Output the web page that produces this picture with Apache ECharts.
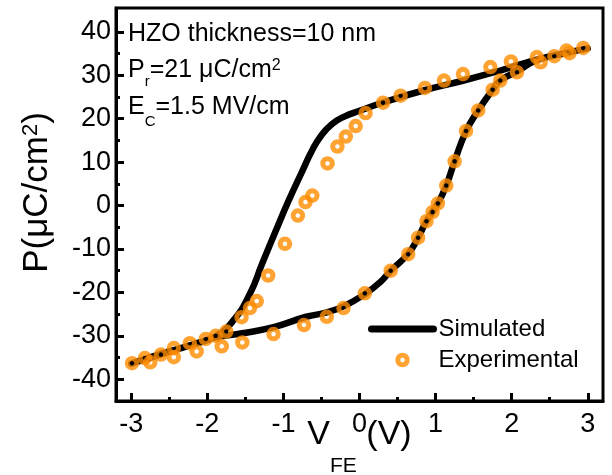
<!DOCTYPE html>
<html>
<head>
<meta charset="utf-8">
<script src="https://cdn.jsdelivr.net/npm/echarts@6/dist/echarts.min.js"></script>
<style>
  html, body { margin: 0; padding: 0; background: #fff; }
  #chart { width: 612px; height: 475px; }
</style>
</head>
<body>
<div id="chart"></div>
<script>
// simulated loop: upper branch (sweep down) then lower branch (sweep up)
const simV = [3.0, 2.73, 2.33, 1.85, 1.37, 0.84, 0.32, 0.01, -0.2, -0.36, -0.5, -0.62, -0.75, -0.93, -1.1, -1.28, -1.44, -1.66, -1.9, -2.2, -2.6, -3.0,
  -2.6, -2.2, -1.9, -1.54, -1.13, -0.7, -0.43, -0.21, 0.07, 0.28, 0.41, 0.64, 0.77, 0.88, 1.03, 1.14, 1.25, 1.4, 1.56, 1.75, 1.85, 2.07, 2.33, 2.73, 3.0];
const simP = [36.2, 35.2, 33.6, 31.1, 28.8, 26.5, 23.8, 21.9, 20.5, 18.8, 16.2, 12.8, 8.0, 1.2, -5.8, -13.4, -20.3, -26.5, -30.2, -32.0, -34.2, -36.4,
  -34.1, -32.1, -30.4, -29.4, -28.0, -25.6, -24.6, -23.2, -20.4, -17.5, -15.0, -11.1, -7.4, -3.6, 0.5, 4.6, 10.2, 17.1, 21.9, 26.7, 28.8, 30.9, 33.5, 35.2, 36.2];

const expV = [2.94, 2.76, 2.72, 2.56, 2.38, 2.33, 1.99, 1.72, 1.36, 1.11, 0.86, 0.54, 0.31, 0.08, -0.05, -0.18, -0.29, -0.42, -0.62, -0.71, -0.81, -0.98,
  -1.2, -1.35, -1.44, -1.55, -1.75, -1.89, -2.02, -2.23, -2.44, -2.61, -2.82, -2.99,
  -2.75, -2.44, -2.14, -1.81, -1.54, -1.13, -0.73, -0.43, -0.21, 0.07, 0.41, 0.64, 0.77, 0.88, 0.96, 1.03, 1.14, 1.25, 1.4, 1.56, 1.75, 1.85, 2.07];
const expP = [36.3, 35.1, 35.7, 34.4, 33.0, 34.2, 33.2, 31.9, 30.3, 28.8, 27.1, 25.3, 23.7, 21.3, 18.3, 15.9, 13.6, 9.7, 2.3, 0.8, -2.3, -8.8,
  -16.1, -22.0, -23.6, -25.7, -29.0, -30.0, -30.7, -31.7, -32.8, -34.3, -35.1, -36.3,
  -36.1, -34.9, -33.6, -32.4, -31.5, -29.6, -27.5, -25.6, -23.6, -20.2, -15.0, -11.2, -7.4, -3.6, -1.5, 0.5, 4.6, 10.2, 17.2, 21.9, 26.7, 28.8, 30.7];

const xTicks = [-3, -2, -1, 0, 1, 2, 3];
const xMinorTicks = [-2.5, -1.5, -0.5, 0.5, 1.5, 2.5];
const yTicks = [-40, -30, -20, -10, 0, 10, 20, 30, 40];
const yMinorTicks = [-35, -25, -15, -5, 5, 15, 25, 35];

const font = "'Liberation Sans', Arial, sans-serif";
const orange = '#FF8C00';

const chart = echarts.init(document.getElementById('chart'));

function minorAxis(base, values) {
  return Object.assign({}, base, {
    axisLine: { show: false, onZero: false },
    axisLabel: { show: false, customValues: values },
    axisTick: { inside: true, length: 4, customValues: values, lineStyle: { color: '#000', width: 3 } },
    splitLine: { show: false },
    name: ''
  });
}

const xBase = { type: 'value', min: -3.2, max: 3.2, position: 'bottom' };
const yBase = { type: 'value', min: -45, max: 45.5, position: 'left' };

chart.setOption({
  animation: false,
  textStyle: { fontFamily: font, color: '#000' },
  grid: {
    left: 116, right: 9, top: 8, bottom: 74,
    outerBoundsMode: 'none',
    show: true, borderColor: '#000', borderWidth: 3
  },
  legend: {
    orient: 'vertical',
    left: 368,
    top: 317,
    padding: 0,
    itemWidth: 62,
    itemHeight: 9.5,
    itemGap: 7,
    textStyle: { fontSize: 24, color: '#000', fontFamily: font },
    data: [
      { name: 'Simulated', itemStyle: { opacity: 0 }, lineStyle: { width: 7, color: '#000' } },
      { name: 'Experimental', itemStyle: { borderWidth: 5 } }
    ]
  },
  xAxis: [
    Object.assign({}, xBase, {
      axisLine: { show: true, onZero: false, lineStyle: { color: '#000', width: 3 } },
      axisTick: { inside: true, length: 8, customValues: xTicks, lineStyle: { color: '#000', width: 3 } },
      axisLabel: { customValues: xTicks, fontSize: 27, color: '#000', margin: 10, fontFamily: font },
      splitLine: { show: false },
      name: '{m|V}{s|FE}{m| (V)}',
      nameLocation: 'middle',
      nameGap: 17,
      nameMoveOverlap: false,
      nameTextStyle: {
        rich: {
          m: { fontSize: 34, lineHeight: 34, verticalAlign: 'top', fontFamily: font, color: '#000' },
          s: { fontSize: 21, lineHeight: 21, verticalAlign: 'top', padding: [38, 0, 0, 0], fontFamily: font, color: '#000' }
        }
      }
    }),
    minorAxis(xBase, xMinorTicks)
  ],
  yAxis: [
    Object.assign({}, yBase, {
      axisLine: { show: true, onZero: false, lineStyle: { color: '#000', width: 3 } },
      axisTick: { inside: true, length: 8, customValues: yTicks, lineStyle: { color: '#000', width: 3 } },
      axisLabel: { customValues: yTicks, fontSize: 27, color: '#000', margin: 5, fontFamily: font },
      splitLine: { show: false },
      name: '{m|P(μC/cm}{s|2}{m|)}',
      nameLocation: 'middle',
      nameGap: 61,
      nameMoveOverlap: false,
      nameTextStyle: {
        padding: [0, 0, 0, 24],
        rich: {
          m: { fontSize: 35, lineHeight: 35, verticalAlign: 'top', fontFamily: font, color: '#000' },
          s: { fontSize: 22, lineHeight: 22, verticalAlign: 'top', fontFamily: font, color: '#000' }
        }
      }
    }),
    minorAxis(yBase, yMinorTicks)
  ],
  graphic: [
    {
      type: 'text', left: 128, top: 22,
      style: { text: 'HZO thickness=10 nm', font: '25px ' + font, fill: '#000' }
    },
    {
      type: 'text', left: 128, top: 58,
      style: {
        text: '{m|P}{s|r}{m|=21 μC/cm}{u|2}',
        rich: {
          m: { fontSize: 25, lineHeight: 25, verticalAlign: 'top', fontFamily: font, fill: '#000' },
          s: { fontSize: 15, lineHeight: 15, verticalAlign: 'top', padding: [16, 0, 0, 0], fontFamily: font, fill: '#000' },
          u: { fontSize: 16, lineHeight: 16, verticalAlign: 'top', fontFamily: font, fill: '#000' }
        }
      }
    },
    {
      type: 'text', left: 128, top: 95,
      style: {
        text: '{m|E}{s|C}{m|=1.5 MV/cm}',
        rich: {
          m: { fontSize: 25, lineHeight: 25, verticalAlign: 'top', fontFamily: font, fill: '#000' },
          s: { fontSize: 15, lineHeight: 15, verticalAlign: 'top', padding: [19, 0, 0, 0], fontFamily: font, fill: '#000' }
        }
      }
    }
  ],
  series: [
    {
      name: 'Simulated',
      type: 'line',
      data: simV.map((v, i) => [v, simP[i]]),
      symbol: 'none',
      smooth: 0.5,
      lineStyle: { color: '#000', width: 6.5, cap: 'round', join: 'round' },
      itemStyle: { color: '#000' },
      z: 2
    },
    {
      name: 'Experimental',
      type: 'scatter',
      data: expV.map((v, i) => [v, expP[i]]),
      symbol: 'circle',
      symbolSize: 9.5,
      itemStyle: { color: 'rgba(0,0,0,0)', borderColor: orange, borderWidth: 5 },
      z: 3
    }
  ]
});

window.addEventListener('resize', () => chart.resize());
</script>
</body>
</html>
